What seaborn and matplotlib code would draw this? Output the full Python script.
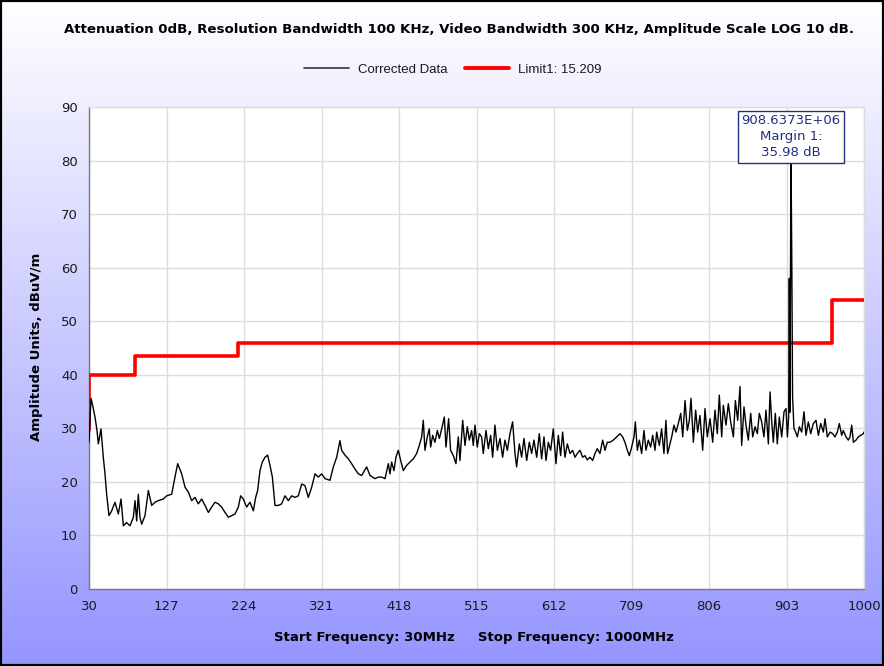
import numpy as np
import matplotlib
matplotlib.use("Agg")
import matplotlib.pyplot as plt
import seaborn as sns
from matplotlib.patches import Rectangle
from matplotlib.colors import LinearSegmentedColormap
from matplotlib.lines import Line2D

sns.set_theme(style="whitegrid")
plt.rcParams['font.family'] = ['DejaVu Sans']

# ---------------- data ----------------
freq_mhz = [
    30.0, 32.5, 35.0, 37.5, 40.0, 41.7, 45.0, 47.9, 50.0, 52.1, 55.0, 58.4, 62.5, 66.7,
    70.1, 73.0, 77.1, 81.3, 85.5, 87.6, 89.7, 91.7, 93.8, 95.9, 100.1, 104.3, 108.4,
    112.6, 116.8, 123.0, 127.2, 133.5, 137.6, 141.0, 146.0, 150.2, 154.3, 158.5, 162.7,
    166.8, 171.0, 175.2, 179.4, 183.5, 187.7, 191.9, 196.0, 200.2, 204.4, 208.6, 212.7,
    216.9, 219.8, 223.2, 227.3, 231.5, 235.7, 238.6, 241.1, 244.0, 246.9, 250.3, 253.6,
    256.5, 259.5, 262.8, 267.0, 271.1, 275.3, 279.5, 283.7, 287.8, 292.0, 296.2, 300.3,
    304.5, 308.7, 312.9, 317.0, 321.2, 325.4, 331.6, 335.8, 340.0, 344.1, 346.2, 350.4,
    354.6, 358.7, 362.9, 367.1, 371.3, 377.5, 381.7, 387.9, 392.1,
    396.3, 400.5, 404.6, 406.7, 408.8, 411.7, 414.2, 417.1, 420.1, 423.4, 427.6, 431.7,
    435.9, 440.1, 443.4, 446.4, 448.4, 450.5, 453.4, 455.9, 457.6, 460.1, 463.0, 466.0,
    468.5, 471.4, 474.7, 476.8, 480.1, 482.6, 486.0, 489.3, 492.2, 494.3, 497.7, 500.6,
    503.5, 506.0, 508.9, 511.0, 513.1, 516.0, 518.5, 521.4, 523.5, 526.9, 529.8, 532.7,
    535.2, 538.1, 541.1, 544.4, 547.7, 550.6, 553.6, 556.9, 560.2, 563.2, 565.2, 568.6,
    571.5, 574.4, 577.8, 581.1, 584.0, 586.9, 590.3, 593.6, 596.5, 599.5, 602.0, 604.9,
    607.8, 611.1, 614.5, 617.4, 620.3, 622.8, 625.7, 628.7, 632.0, 635.3, 638.3, 641.2,
    644.5, 647.9, 650.8, 653.7, 657.0, 660.4, 663.3, 666.2, 669.5, 672.9, 675.8, 678.7,
    682.1, 686.2, 690.4, 694.6, 697.9, 700.8, 703.8, 706.3, 709.2, 712.1, 713.8, 716.3,
    718.8, 721.7, 724.6, 727.1, 730.0, 733.0, 735.5, 738.4, 740.5, 743.8, 746.7, 749.6,
    752.1, 754.2,
    759.3, 762.2, 764.7, 767.6, 770.6, 773.1, 776.0, 778.9, 781.4, 783.5, 786.4, 789.3,
    791.8, 794.7, 798.1, 801.0, 803.9, 807.3, 810.6, 813.5, 816.4, 818.9, 821.9, 823.9,
    827.3, 830.2, 833.1, 836.5, 839.0, 841.9, 844.8, 846.9, 849.8, 852.3, 855.2, 858.2,
    860.7, 863.6, 866.5, 869.0, 871.9, 874.8, 877.3, 880.3, 882.4, 884.4, 886.5, 889.0,
    891.5, 894.0, 897.0, 899.9, 902.4, 904.1, 905.7, 906.5, 907.3, 908.6, 909.6, 910.6,
    912.3, 913.6, 916.6, 919.1, 922.0, 924.9, 927.4, 930.3, 933.3, 936.6, 939.9, 942.9,
    945.8, 949.1, 951.2, 954.1, 957.5, 960.8, 963.7, 966.6, 969.1, 972.1, 974.1, 977.5,
    980.4, 982.5, 984.6, 986.7, 990.0, 992.9, 995.8, 999.2, 1000.0,
]
amplitude_dbuv = [
    27.4, 35.6, 34.0, 32.1, 29.6, 27.1, 29.9, 24.6, 21.5, 17.7, 13.7, 14.6, 16.2, 14.0,
    16.8, 11.8, 12.4, 11.8, 13.4, 16.5, 12.7, 17.7, 13.4, 12.1, 13.7, 18.4, 15.6,
    16.2, 16.5, 16.8, 17.4, 17.7, 20.9, 23.4, 21.5, 19.0, 18.1, 16.5, 17.1,
    15.9, 16.8, 15.6, 14.3, 15.3, 16.2, 15.9, 15.3, 14.3, 13.4, 13.7, 14.0,
    15.3, 17.4, 16.8, 15.3, 16.2, 14.6, 17.1, 18.4, 22.1, 23.7, 24.6, 25.0,
    23.1, 20.9, 15.6, 15.6, 15.9, 17.4, 16.5, 17.4, 17.1, 17.4, 19.6, 19.3,
    17.1, 19.0, 21.5, 20.9, 21.5, 20.6, 20.3, 22.8, 24.6, 27.7, 25.9, 25.0,
    24.3, 23.4, 22.4, 21.5, 21.2, 22.8, 21.2, 20.6, 20.9,
    20.9, 20.6, 23.4, 21.5, 23.7, 22.1, 24.6, 25.9, 24.0, 22.1, 23.1, 23.7,
    24.3, 25.3, 26.8, 28.4, 31.5, 25.9, 28.4, 29.9, 26.5, 28.7, 27.4, 29.6,
    28.1, 29.9, 32.1, 26.5, 31.8, 25.9, 24.9, 23.4, 28.4, 24.0, 31.5, 26.8,
    30.3, 27.8, 29.6, 26.8, 30.6, 26.5, 29.0, 28.4, 25.3, 29.6, 26.2, 28.7,
    24.6, 30.6, 25.9, 28.1, 24.6, 27.8, 25.9, 29.0, 31.2, 25.3, 22.8, 27.1,
    24.6, 28.1, 24.0, 27.4, 25.3, 27.8, 24.6, 29.0, 24.3, 28.4, 24.0, 27.4,
    25.9, 29.9, 23.4, 28.7, 24.9, 29.3, 24.6, 27.1, 25.3, 25.9, 24.6, 25.3,
    25.9, 24.6, 24.9, 24.1, 24.6, 24.0, 25.3, 26.2, 25.3, 27.8, 25.9, 27.4,
    27.4, 27.8, 28.4, 29.0, 28.4, 27.4, 25.9, 24.9, 26.5, 28.4, 31.2, 25.9,
    27.8, 25.3, 29.6, 25.9, 27.8, 26.5, 28.7, 25.9, 29.3, 26.8, 29.9, 25.3,
    31.5, 25.3,
    28.4, 30.6, 29.3, 30.9, 32.8, 28.4, 35.2, 29.6, 31.5, 35.6, 27.4, 33.4,
    29.3, 32.4, 25.9, 33.7, 28.4, 31.8, 27.4, 33.4, 29.0, 36.2, 28.4, 34.3,
    30.6, 34.6, 31.2, 28.4, 35.2, 31.5, 37.8, 26.8, 34.0, 30.6, 27.8, 32.8,
    28.4, 30.3, 29.0, 32.8, 31.2, 28.4, 33.4, 27.1, 36.8, 31.5, 27.4, 32.8,
    27.1, 32.1, 28.4, 33.1, 33.7, 28.4, 32.1, 58.0, 33.0, 81.98, 62.0, 36.0,
    30.0, 29.6, 28.4, 30.3, 29.3, 33.1, 28.7, 31.2, 29.0, 30.9, 31.5, 28.7,
    30.9, 29.3, 31.8, 28.4, 29.3, 29.0, 28.4, 29.3, 30.9, 28.7, 29.6, 28.4,
    27.8, 28.4, 30.6, 27.4, 27.8, 28.4, 28.7, 29.0, 29.3,
]
limit_freq = [30, 30, 88, 88, 216, 216, 960, 960, 1000]
limit_level = [29.7, 40, 40, 43.5, 43.5, 46, 46, 54, 54]
x_ticks = [30, 127, 224, 321, 418, 515, 612, 709, 806, 903, 1000]
y_ticks = [0, 10, 20, 30, 40, 50, 60, 70, 80, 90]
peak_freq = 908.6373
peak_level = 81.98
marker_text = ["908.6373E+06", "Margin 1:", "35.98 dB"]
series_labels = ["Corrected Data", "Limit1: 15.209"]
title = ("Attenuation 0dB, Resolution Bandwidth 100 KHz, Video Bandwidth 300 KHz, "
         "Amplitude Scale LOG 10 dB.")

# ---------------- figure ----------------
W, H = 884, 666
fig = plt.figure(figsize=(W / 100, H / 100), dpi=100)

bg = fig.add_axes([0, 0, 1, 1], zorder=-10)
grad = np.linspace(0, 1, 256)[:, None]
cmap = LinearSegmentedColormap.from_list("bg", ["#ffffff", "#9595ff"])
bg.imshow(grad, aspect="auto", cmap=cmap, extent=[0, 1, 0, 1], origin="upper")
bg.set_axis_off()

ax = fig.add_axes([89 / W, 1 - 589 / H, (864 - 89) / W, (589 - 107) / H])
ax.set_facecolor("white")

sns.lineplot(x=limit_freq, y=limit_level, ax=ax, color="#ff0000", lw=2.6,
             estimator=None, sort=False, zorder=3)
sns.lineplot(x=freq_mhz, y=amplitude_dbuv, ax=ax, color="black", lw=1.0,
             estimator=None, sort=False, zorder=4)

ax.set_xlim(30, 1000)
ax.set_ylim(0, 90)
ax.set_xticks(x_ticks)
ax.set_yticks(y_ticks)
ax.set_xlabel("")
ax.set_ylabel("")
ax.grid(True, color="#dcdcdc", lw=1)
for s in ["left", "bottom"]:
    ax.spines[s].set_color("#7a7a7a")
    ax.spines[s].set_linewidth(1)
for s in ["top", "right"]:
    ax.spines[s].set_color("#dcdcdc")
    ax.spines[s].set_linewidth(1)
ax.tick_params(axis="both", direction="out", length=4, width=1, color="#7a7a7a",
               labelsize=9.5, labelcolor="#1a1a1a", pad=4)

# marker + annotation
navy = "#22307f"
ax.plot([peak_freq], [peak_level], marker="o", ms=7, mfc="none", mec=navy, mew=1,
        zorder=6, clip_on=False)
ax.text(peak_freq, 84.4, "\n".join(marker_text), ha="center", va="center",
        color=navy, fontsize=9.5, linespacing=1.3, zorder=7, clip_on=False,
        bbox=dict(boxstyle="square,pad=0.25", fc="white", ec=navy, lw=1))

# legend
handles = [Line2D([], [], color="#333333", lw=1.2), Line2D([], [], color="#ff0000", lw=2.8)]
fig.legend(handles, series_labels, loc="center", bbox_to_anchor=(453 / W, 1 - 70 / H),
           ncol=2, frameon=False, handlelength=3.4, columnspacing=1.3,
           handletextpad=0.65, labelcolor="#1a1a1a",
           prop={"family": "Liberation Sans", "size": 9.5})

fig.text(459 / W, 1 - 29 / H, title, ha="center", va="center", fontweight="bold",
         fontsize=9.6, color="black")
fig.text(37 / W, 1 - 347 / H, "Amplitude Units, dBuV/m", ha="center", va="center",
         rotation=90, fontweight="bold", fontsize=9.5, color="black")
fig.text(474 / W, 1 - 638 / H, "Start Frequency: 30MHz     Stop Frequency: 1000MHz",
         ha="center", va="center", fontweight="bold", fontsize=9.5, color="black")

fig.add_artist(Rectangle((0, 0), 1, 1, transform=fig.transFigure, fill=False,
                         ec="black", lw=3, zorder=20))

fig.savefig("out.png", dpi=100)
